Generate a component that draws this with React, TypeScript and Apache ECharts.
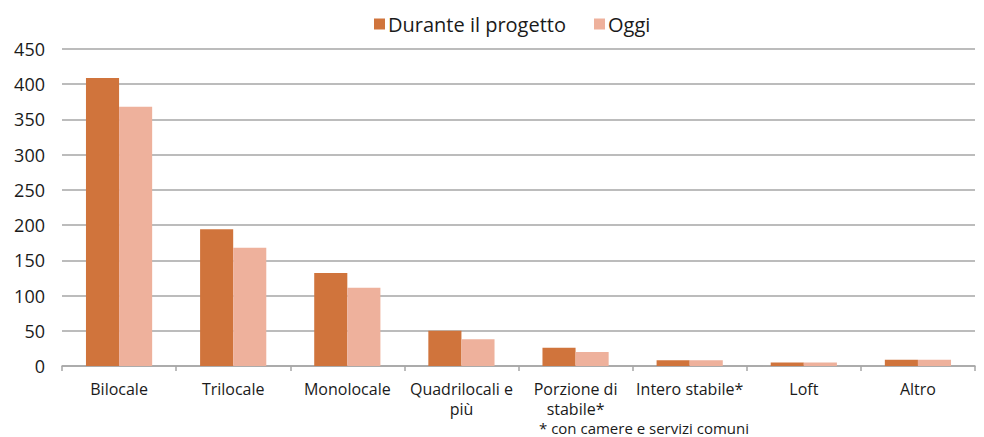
import React, { useEffect, useRef } from "react";
import * as echarts from "echarts";

const categories = [
  "Bilocale",
  "Trilocale",
  "Monolocale",
  "Quadrilocali e\npiù",
  "Porzione di\nstabile*",
  "Intero stabile*",
  "Loft",
  "Altro",
];
const durante = [409, 194, 132, 50, 26, 8, 5, 9];
const oggi = [368, 168, 111, 38, 20, 8, 5, 9];
const seriesNames = ["Durante il progetto", "Oggi"];
const footnote = "* con camere e servizi comuni";

const FONT = "Open Sans";

export default function App() {
  const ref = useRef<HTMLDivElement>(null);
  useEffect(() => {
    if (!ref.current) return;
    const chart = echarts.init(ref.current, undefined, { renderer: "svg" });
    chart.setOption({
      animation: false,
      textStyle: { fontFamily: FONT },
      legend: {
        data: seriesNames,
        top: 9,
        left: 369,
        icon: "rect",
        itemWidth: 11,
        itemHeight: 11,
        itemGap: 28,
        textStyle: { fontSize: 20, color: "#1a1a1a", fontFamily: FONT, padding: [0, 0, 0, -2] },
      },
      grid: { left: 62, right: 9, top: 49, bottom: 71 },
      xAxis: {
        type: "category",
        data: categories,
        axisLine: { lineStyle: { color: "#a6a6a6", width: 1.5 } },
        axisTick: { show: true, length: 5, lineStyle: { color: "#a6a6a6", width: 1.5 } },
        axisLabel: {
          interval: 0,
          fontSize: 16,
          color: "#1a1a1a",
          fontFamily: FONT,
          margin: 13,
          lineHeight: 20,
        },
      },
      yAxis: {
        type: "value",
        min: 0,
        max: 450,
        interval: 50,
        axisLine: { show: false },
        axisTick: { show: false },
        axisLabel: { fontSize: 18, color: "#1a1a1a", fontFamily: FONT, margin: 17 },
        splitLine: { lineStyle: { color: "#a6a6a6", width: 1.5 } },
      },
      series: [
        {
          name: seriesNames[0],
          type: "bar",
          data: durante,
          barGap: "0%",
          barCategoryGap: "42%",
          itemStyle: { color: "#d0743c" },
        },
        {
          name: seriesNames[1],
          type: "bar",
          data: oggi,
          itemStyle: { color: "#eeb19c" },
        },
      ],
      graphic: [
        {
          type: "text",
          x: 644,
          y: 428,
          style: {
            text: footnote,
            fontSize: 15,
            lineHeight: 15,
            fill: "#1a1a1a",
            fontFamily: FONT,
            align: "center",
            verticalAlign: "middle",
          },
        },
      ],
    });
    return () => chart.dispose();
  }, []);
  return (
    <div
      ref={ref}
      style={{ position: "absolute", left: 0, top: 0, width: 984, height: 437 }}
    />
  );
}
